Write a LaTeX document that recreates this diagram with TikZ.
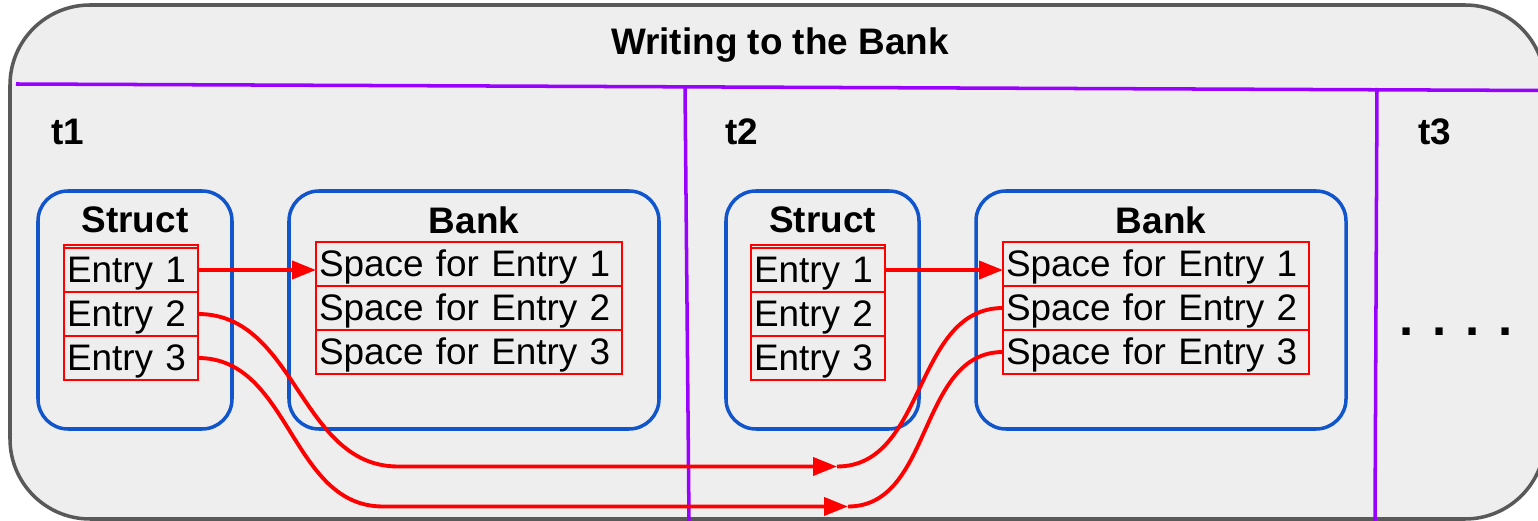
\documentclass[tikz,border=0pt]{standalone}
\usepackage{fontspec}
\setmainfont{Liberation Sans}
\usetikzlibrary{arrows.meta, positioning}
\definecolor{panelgray}{RGB}{238, 238, 238}
\definecolor{framegray}{RGB}{89, 89, 89}
\definecolor{stepviolet}{RGB}{153, 0, 255}
\definecolor{boxblue}{RGB}{17, 85, 204}
\definecolor{linkred}{RGB}{255, 0, 0}

\begin{document}
\begin{tikzpicture}[
  txt/.style={font=\fontsize{21}{25}\selectfont},
  head/.style={font=\fontsize{21}{25}\selectfont\bfseries},
  panel/.style={draw=boxblue, line width=2pt, rounded corners=0.6cm, minimum height=4.76cm},
  entry/.style={draw=linkred, line width=0.8pt, txt, text width=#1, align=left, inner xsep=0.06cm, inner ysep=0pt,
    text height=0.62cm, text depth=0.1cm, minimum height=0.88cm, outer sep=0pt},
  divider/.style={draw=stepviolet, line width=2pt},
  link/.style={draw=linkred, line width=2.2pt},
  tip/.style={-{Triangle[length=0.48cm, width=0.36cm]}}
]
  \clip (0,0) rectangle (30.76,10.42);
  \draw[draw=framegray, fill=panelgray, line width=2pt, rounded corners=1.6cm] (0.2,0.04) rectangle (30.9,10.32);

  \node[head] (title) at (15.6,9.52) {Writing to the Bank};

  \draw[divider] (0.32,8.74) -- (30.9,8.61);
  \draw[divider] (13.7,8.7) -- (13.78,0);
  \draw[divider] (27.54,8.66) -- (27.5,0);

  \node[head] (t1) at (1.36,7.78) {t1};
  \node[head] (t2) at (14.84,7.78) {t2};
  \node[head] (t3) at (28.7,7.78) {t3};

  % t1
  \node[panel, minimum width=3.88cm] (struct1) at (2.7,4.22) {};
  \node[panel, minimum width=7.4cm] (bank1) at (9.48,4.22) {};
  \node[head] at ([yshift=-0.62cm]struct1.north) {Struct};
  \node[head] at ([yshift=-0.62cm]bank1.north) {Bank};

  \node[entry=2.56cm, anchor=north west] (s1e1) at (1.28,5.46) {Entry 1};
  \node[entry=2.56cm, below=0pt of s1e1] (s1e2) {Entry 2};
  \node[entry=2.56cm, below=0pt of s1e2] (s1e3) {Entry 3};
  \draw[linkred, line width=0.8pt] ([yshift=0.06cm]s1e1.north west) rectangle (s1e3.south east);

  \node[entry=6cm, anchor=north west] (b1e1) at (6.32,5.58) {Space for Entry 1};
  \node[entry=6cm, below=0pt of b1e1] (b1e2) {Space for Entry 2};
  \node[entry=6cm, below=0pt of b1e2] (b1e3) {Space for Entry 3};

  % t2
  \node[panel, minimum width=3.86cm] (struct2) at (16.45,4.22) {};
  \node[panel, minimum width=7.4cm] (bank2) at (23.22,4.22) {};
  \node[head] at ([yshift=-0.62cm]struct2.north) {Struct};
  \node[head] at ([yshift=-0.62cm]bank2.north) {Bank};

  \node[entry=2.56cm, anchor=north west] (s2e1) at (15.02,5.46) {Entry 1};
  \node[entry=2.56cm, below=0pt of s2e1] (s2e2) {Entry 2};
  \node[entry=2.56cm, below=0pt of s2e2] (s2e3) {Entry 3};
  \draw[linkred, line width=0.8pt] ([yshift=0.06cm]s2e1.north west) rectangle (s2e3.south east);

  \node[entry=6cm, anchor=north west] (b2e1) at (20.06,5.58) {Space for Entry 1};
  \node[entry=6cm, below=0pt of b2e1] (b2e2) {Space for Entry 2};
  \node[entry=6cm, below=0pt of b2e2] (b2e3) {Space for Entry 3};

  % t3
  \node[font=\fontsize{29}{29}\selectfont\bfseries] (more) at (29.12,3.78) {. . . .};

  \coordinate (bend2) at (7.96,1.09);
  \coordinate (mid2) at (16.74,1.09);
  \coordinate (bend3) at (7.66,0.29);
  \coordinate (mid3) at (16.96,0.29);

  \draw[link, tip] (s1e1.east) -- (s1e1.east -| b1e1.west);
  \draw[link, tip] (s2e1.east) -- (s2e1.east -| b2e1.west);
  \draw[link, tip] (s1e2.east) to[out=0, in=180] (bend2) -- (mid2);
  \draw[link] (mid2) to[out=0, in=180] (b2e2.west);
  \draw[link, tip] (s1e3.east) to[out=0, in=180] (bend3) -- (mid3);
  \draw[link] (mid3) to[out=0, in=180] (b2e3.west);
\end{tikzpicture}
\end{document}
